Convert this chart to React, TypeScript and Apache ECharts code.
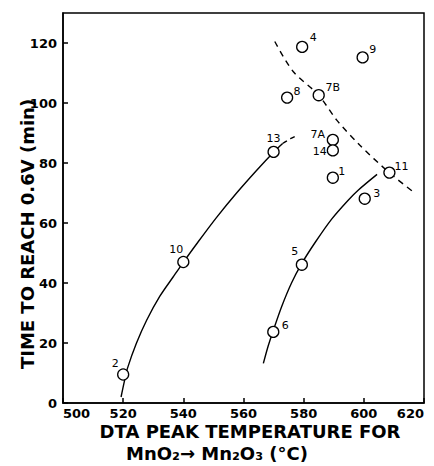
import React, { useEffect, useRef } from "react";
import * as echarts from "echarts";

// Sample points (DTA peak temperature, time to reach 0.6 V)
const pointIds = ["2", "10", "13", "8", "4", "7B", "9", "7A", "14", "1", "11", "3", "5", "6"];
const pointTemps = [520, 540, 570, 574.5, 579.5, 585, 599.6, 589.7, 589.7, 589.7, 608.5, 600.3, 579.4, 569.9];
const pointTimes = [9.5, 47, 83.7, 101.8, 118.7, 102.6, 115.2, 87.7, 84.2, 75.1, 76.8, 68.1, 46.1, 23.7];

// Left fitted curve (solid) and its dashed extension
const leftCurveT = [519.3, 520.4, 521.5, 524.4, 527.8, 532.2, 536.6, 540, 544.4, 551, 557.7, 564.4, 570, 573];
const leftCurveY = [2, 7.2, 11.8, 19.9, 27.6, 35.6, 42, 46.9, 53, 61.8, 70, 77.6, 83.6, 86.5];
const leftDashT = [573, 575.6, 578.2];
const leftDashY = [86.5, 88.1, 89.4];

// Right fitted curve (solid)
const rightCurveT = [566.6, 568.2, 569.9, 572.7, 576, 579.3, 583.8, 589.3, 594.8, 598.2, 604.4];
const rightCurveY = [13.2, 19, 24.2, 32.2, 40.1, 46.4, 53.5, 61.3, 67.6, 71, 76.2];

// Dashed boundary curve
const boundaryT = [570.4, 576.5, 584.9, 591, 598.7, 608.2, 616.5];
const boundaryY = [120.5, 110.5, 102.7, 94.3, 85.9, 77, 70.3];

const xTicks = { min: 500, max: 620, interval: 20 };
const yTicks = { min: 0, max: 130, interval: 20 };

// label offsets (px) relative to circle centre
const labelOffsets: Record<string, [number, number]> = {
  "2": [-8, -11],
  "10": [-7, -13],
  "13": [0, -13],
  "8": [10, -6],
  "4": [11, -9],
  "7B": [14, -8],
  "9": [10, -8],
  "7A": [-15, -5],
  "14": [-13, 1],
  "1": [9, -6],
  "11": [12, -6],
  "3": [12, -5],
  "5": [-7, -13],
  "6": [12, -6],
};

const zip = (a: number[], b: number[]) => a.map((v, i) => [v, b[i]]);

export default function App() {
  const ref = useRef<HTMLDivElement>(null);
  useEffect(() => {
    if (!ref.current) return;
    const chart = echarts.init(ref.current, null, { renderer: "svg" });
    const font = "DejaVu Sans";
    const lineStyle = { color: "#000", width: 1.5 };
    const curve = { color: "#000", width: 1.4 };
    chart.setOption({
      animation: false,
      backgroundColor: "#fff",
      grid: {
        left: 63,
        right: 10,
        top: 13,
        bottom: 63,
        show: true,
        borderColor: "#000",
        borderWidth: 1.5,
      },
      xAxis: {
        type: "value",
        min: xTicks.min,
        max: xTicks.max,
        interval: xTicks.interval,
        splitLine: { show: false },
        axisLine: { lineStyle },
        axisTick: { inside: true, length: 5, lineStyle },
        axisLabel: {
          color: "#000",
          fontFamily: font,
          fontSize: 13,
          fontWeight: "bold",
          margin: 4,
          alignMinLabel: "left",
          alignMaxLabel: "right",
        },
      },
      yAxis: {
        type: "value",
        min: yTicks.min,
        max: yTicks.max,
        interval: yTicks.interval,
        splitLine: { show: false },
        axisLine: { lineStyle },
        axisTick: { inside: true, length: 5, lineStyle },
        axisLabel: {
          color: "#000",
          fontFamily: font,
          fontSize: 13,
          fontWeight: "bold",
          margin: 6,
          showMaxLabel: false,
        },
      },
      series: [
        {
          type: "line",
          data: zip(leftCurveT, leftCurveY),
          smooth: 0.3,
          showSymbol: false,
          lineStyle: curve,
          z: 1,
        },
        {
          type: "line",
          data: zip(leftDashT, leftDashY),
          smooth: 0.3,
          showSymbol: false,
          lineStyle: { ...curve, type: [5, 4] },
          z: 1,
        },
        {
          type: "line",
          data: zip(rightCurveT, rightCurveY),
          smooth: 0.3,
          showSymbol: false,
          lineStyle: curve,
          z: 1,
        },
        {
          type: "line",
          data: zip(boundaryT, boundaryY),
          smooth: 0.3,
          showSymbol: false,
          lineStyle: { ...curve, type: [6, 5] },
          z: 1,
        },
        {
          type: "scatter",
          symbol: "circle",
          symbolSize: 11,
          itemStyle: { color: "#fff", borderColor: "#000", borderWidth: 1.3, opacity: 1 },
          z: 3,
          data: pointIds.map((id, i) => ({
            name: id,
            value: [pointTemps[i], pointTimes[i]],
            label: {
              show: true,
              formatter: "{b}",
              position: "inside",
              offset: labelOffsets[id],
              color: "#000",
              fontFamily: font,
              fontSize: 11,
              align: "center",
              verticalAlign: "middle",
            },
          })),
        },
      ],
      graphic: [
        {
          type: "text",
          x: 27,
          y: 234,
          rotation: Math.PI / 2,
          style: {
            text: "TIME TO REACH 0.6V (min)",
            fontFamily: font,
            fontWeight: "bold",
            fontSize: 18,
            lineHeight: 16,
            fill: "#000",
            align: "center",
            verticalAlign: "middle",
          },
        },
        {
          type: "text",
          x: 250,
          y: 431,
          style: {
            text: "DTA PEAK TEMPERATURE FOR",
            fontFamily: font,
            fontWeight: "bold",
            fontSize: 18,
            lineHeight: 16,
            fill: "#000",
            align: "center",
            verticalAlign: "middle",
          },
        },
        {
          type: "text",
          x: 217,
          y: 453,
          style: {
            text: "MnO₂→ Mn₂O₃ (°C)",
            fontFamily: font,
            fontWeight: "bold",
            fontSize: 18,
            lineHeight: 16,
            fill: "#000",
            align: "center",
            verticalAlign: "middle",
          },
        },
      ],
    });
    return () => chart.dispose();
  }, []);
  return (
    <div
      ref={ref}
      style={{ position: "absolute", left: 0, top: 0, width: 434, height: 466 }}
    />
  );
}
